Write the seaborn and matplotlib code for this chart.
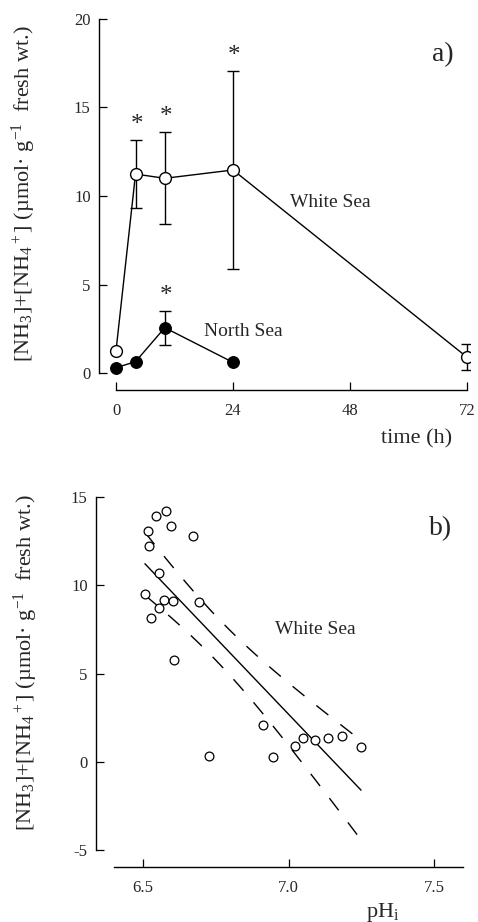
import numpy as np
import matplotlib
matplotlib.use("Agg")
import matplotlib.pyplot as plt
import seaborn as sns

# a) ammonia content over time (means, error bars = sd)
hours = [0, 4, 10, 24, 72]
white_sea = [1.26, 11.24, 11.0, 11.47, 0.89]
white_sea_sd = [0.0, 1.9, 2.6, 5.6, 0.73]
white_sea_star = [False, True, True, True, False]

north_hours = [0, 4, 10, 24]
north_sea = [0.3, 0.64, 2.56, 0.6]
north_sea_sd = [0.0, 0.0, 0.95, 0.0]
north_sea_star = [False, False, True, False]

# b) ammonia vs intracellular pH, White Sea
phi = [6.517, 6.544, 6.580, 6.596, 6.672, 6.522, 6.554, 6.507, 6.573, 6.602, 6.556, 6.527,
       6.694, 6.606, 6.727, 6.914, 6.946, 7.022, 7.050, 7.092, 7.134, 7.182, 7.249]
ammonia = [13.08, 13.88, 14.18, 13.33, 12.78, 12.19, 10.66, 9.47, 9.17, 9.11, 8.73, 8.15,
           9.05, 5.75, 0.32, 2.08, 0.26, 0.89, 1.36, 1.23, 1.36, 1.44, 0.85]

sns.set_style("ticks")
plt.rcParams['font.family'] = ['Liberation Serif', 'DejaVu Serif']
plt.rcParams['mathtext.fontset'] = 'custom'
plt.rcParams['mathtext.rm'] = 'Liberation Serif'
plt.rcParams['mathtext.it'] = 'Liberation Serif:italic'
plt.rcParams['axes.unicode_minus'] = False

ylab = "[NH$_3$]+[NH$_4$$^+$] (\u00b5mol\u00b7 g$^{-1}$  fresh wt.)"

fig = plt.figure(figsize=(4.78, 9.22), dpi=100)

# ---------- panel a ----------
ax1 = fig.add_axes([0.2071, 0.5770, 0.7762, 0.4024])
sns.lineplot(x=hours, y=white_sea, ax=ax1, color="black", lw=1, marker="o", markersize=8.5,
             markerfacecolor="white", markeredgecolor="black", markeredgewidth=1, zorder=3)
sns.lineplot(x=north_hours, y=north_sea, ax=ax1, color="black", lw=1, marker="o", markersize=8.5,
             markerfacecolor="black", markeredgecolor="black", zorder=3)
for xs, ys, sd, star in [(hours, white_sea, white_sea_sd, white_sea_star),
                         (north_hours, north_sea, north_sea_sd, north_sea_star)]:
    xs, ys, sd, star = map(np.asarray, (xs, ys, sd, star))
    m = sd > 0
    ax1.errorbar(xs[m], ys[m], yerr=sd[m], fmt="none", ecolor="black", elinewidth=1,
                 capsize=4, capthick=1, zorder=2)
    for x, top in zip(xs[star], (ys + sd)[star]):
        ax1.annotate("*", (x, top), xytext=(1, 11), textcoords="offset points",
                     ha="center", va="center", fontsize=18)

ax1.set_xlim(-3.49, 72.6)
ax1.set_ylim(-0.96, 20)
ax1.set_xticks([0, 24, 48, 72])
ax1.set_yticks([0, 5, 10, 15, 20])
ax1.spines["left"].set_bounds(0, 20)
ax1.spines["bottom"].set_bounds(0, 72)
sns.despine(ax=ax1)
ax1.text(67.1, 17.97, "a)", fontsize=20, ha="center", va="center")
ax1.text(35.7, 9.66, "White Sea", fontsize=14, ha="left", va="center")
ax1.text(18.0, 2.32, "North Sea", fontsize=14, ha="left", va="center")
ax1.set_xlabel("time (h)", fontsize=16, loc="right")
ax1.xaxis.set_label_coords(0.951, -0.105)
ax1.set_ylabel(ylab, fontsize=16)
ax1.yaxis.set_label_coords(-0.164, 0.528)

# ---------- panel b ----------
ax2 = fig.add_axes([0.2008, 0.0593, 0.7684, 0.4020])
sns.scatterplot(x=phi, y=ammonia, ax=ax2, s=40, color="white", edgecolor="black",
                linewidth=0.9, zorder=3)
sns.regplot(x=phi, y=ammonia, ax=ax2, scatter=False, ci=None, truncate=True,
            line_kws=dict(color="black", lw=1))

# 95 % confidence band of the regression, drawn as dashed lines
x = np.asarray(phi)
y = np.asarray(ammonia)
n = len(x)
slope, icept = np.polyfit(x, y, 1)
resid = y - (icept + slope * x)
s = np.sqrt(np.sum(resid ** 2) / (n - 2))
sxx = np.sum((x - x.mean()) ** 2)
xg = np.linspace(x.min(), x.max(), 100)
yg = icept + slope * xg
half = 2.08 * s * np.sqrt(1 / n + (xg - x.mean()) ** 2 / sxx)
for band in (yg + half, yg - half):
    ax2.plot(xg, band, color="black", lw=1, linestyle=(0, (11, 11)))

ax2.set_xlim(6.339, 7.6)
ax2.set_ylim(-5.96, 15)
ax2.set_xticks([6.5, 7.0, 7.5])
ax2.set_xticklabels(["6.5", "7.0", "7.5"])
ax2.set_yticks([-5, 0, 5, 10, 15])
ax2.spines["left"].set_bounds(-5, 15)
ax2.spines["bottom"].set_bounds(6.4, 7.6)
sns.despine(ax=ax2)
ax2.text(7.523, 13.18, "b)", fontsize=20, ha="center", va="center")
ax2.text(6.955, 7.5, "White Sea", fontsize=14, ha="left", va="center")
ax2.set_xlabel("pH$_\\mathrm{i}$", fontsize=16)
ax2.xaxis.set_label_coords(0.78, -0.09)
ax2.set_ylabel(ylab, fontsize=16)
ax2.yaxis.set_label_coords(-0.152, 0.553)

for ax in (ax1, ax2):
    ax.tick_params(direction="in", length=6, width=0.9, labelsize=12, color="black")
    ax.tick_params(axis="x", pad=9)
    ax.tick_params(axis="y", pad=6)
    for sp in ("left", "bottom"):
        ax.spines[sp].set_linewidth(1)
        ax.spines[sp].set_color("black")

fig.savefig("out.png", dpi=100)
